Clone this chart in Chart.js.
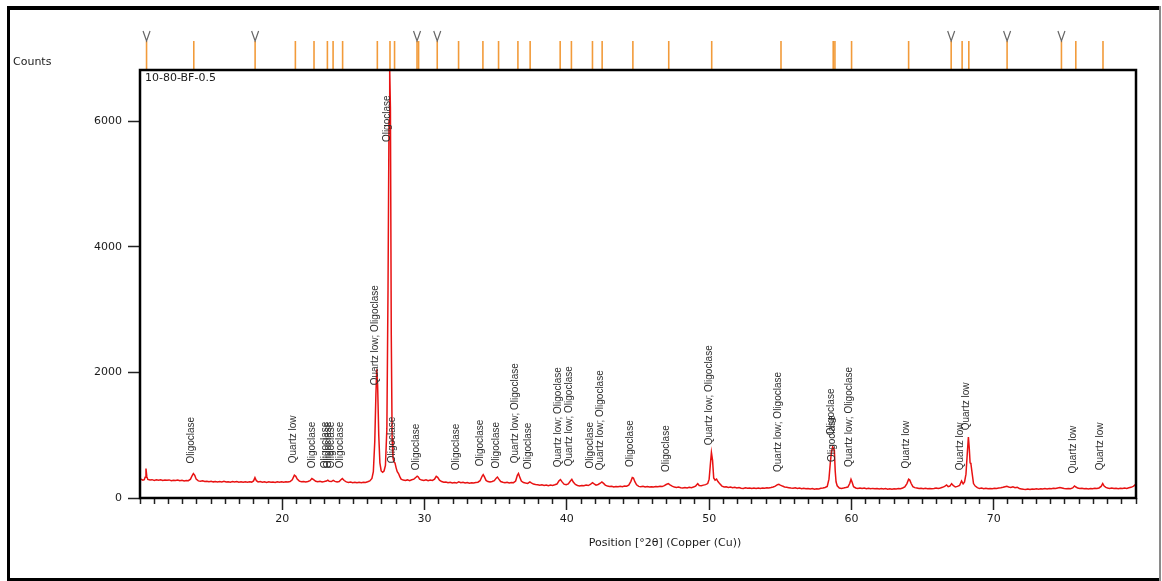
<!DOCTYPE html>
<html>
<head>
<meta charset="utf-8">
<script src="https://cdn.jsdelivr.net/npm/chart.js@4.4.1/dist/chart.umd.min.js"></script>
<style>
html,body{margin:0;padding:0;background:#fff;}
canvas{display:block;}
</style>
</head>
<body>
<canvas id="c" width="1162" height="581"></canvas>
<script>
// ---- Data ----
const sampleName = '10-80-BF-0.5';
const yTitle = 'Counts';
const xTitle = 'Position [°2θ] (Copper (Cu))';
const xTickLabels = [20, 30, 40, 50, 60, 70];
const yTickValues = [0, 2000, 4000, 6000];

// measured scan: [2θ, counts]
const scan = [
[10.00,288],[10.10,296],[10.20,285],[10.30,292],[10.36,330],[10.42,468],[10.48,340],[10.55,295],[10.70,286],[10.85,292],[11.00,280],[11.15,289],[11.30,283],[11.45,290],[11.60,278],[11.75,286],[11.90,281],[12.05,288],[12.20,276],[12.35,284],[12.50,279],[12.65,287],[12.80,275],[12.95,281],[13.10,272],[13.25,280],[13.40,276],[13.55,300],[13.65,350],[13.75,389],[13.85,360],[13.95,300],[14.10,272],[14.25,266],[14.40,274],[14.55,262],[14.70,268],[14.85,259],[15.00,266],[15.15,257],[15.30,264],[15.45,255],[15.60,262],[15.75,256],[15.90,265],[16.05,254],[16.20,260],[16.35,252],[16.50,261],[16.65,255],[16.80,263],[16.95,252],[17.10,258],[17.25,250],[17.40,257],[17.55,251],[17.70,259],[17.85,253],[17.98,272],[18.08,325],[18.18,275],[18.30,256],[18.45,262],[18.60,251],[18.75,259],[18.90,249],[19.05,258],[19.20,250],[19.35,256],[19.50,248],[19.65,257],[19.80,252],[19.95,260],[20.10,251],[20.25,258],[20.40,254],[20.55,262],[20.70,290],[20.85,362],[20.95,345],[21.05,300],[21.20,268],[21.35,258],[21.50,264],[21.65,255],[21.80,262],[21.95,276],[22.08,309],[22.20,292],[22.35,266],[22.50,258],[22.65,265],[22.80,256],[22.95,262],[23.10,270],[23.20,284],[23.30,266],[23.45,262],[23.58,282],[23.70,265],[23.85,255],[24.00,262],[24.12,290],[24.22,309],[24.35,278],[24.50,256],[24.65,248],[24.80,255],[24.95,244],[25.10,251],[25.25,243],[25.40,250],[25.55,244],[25.70,252],[25.85,246],[26.00,258],[26.15,272],[26.30,310],[26.40,420],[26.50,900],[26.58,1650],[26.64,2050],[26.70,1800],[26.78,1000],[26.86,560],[26.95,430],[27.05,410],[27.15,430],[27.25,520],[27.35,1100],[27.43,3300],[27.50,6000],[27.55,6830],[27.60,6200],[27.66,2600],[27.72,950],[27.78,640],[27.85,573],[27.92,560],[28.00,480],[28.08,420],[28.17,389],[28.26,340],[28.35,300],[28.50,285],[28.65,278],[28.80,288],[28.95,276],[29.10,290],[29.25,300],[29.40,330],[29.48,346],[29.56,335],[29.65,300],[29.80,285],[29.95,278],[30.10,290],[30.25,275],[30.40,285],[30.55,280],[30.70,300],[30.82,346],[30.92,330],[31.05,285],[31.20,262],[31.35,250],[31.50,256],[31.65,244],[31.80,252],[31.95,240],[32.10,248],[32.25,238],[32.40,256],[32.55,242],[32.70,250],[32.85,238],[33.00,246],[33.15,236],[33.30,244],[33.45,240],[33.60,248],[33.75,252],[33.90,275],[34.05,350],[34.12,373],[34.20,340],[34.32,280],[34.45,262],[34.60,255],[34.75,262],[34.90,275],[35.05,320],[35.12,334],[35.22,300],[35.35,262],[35.50,250],[35.65,244],[35.80,252],[35.95,240],[36.10,248],[36.25,244],[36.40,270],[36.52,360],[36.60,389],[36.68,340],[36.80,270],[36.95,245],[37.10,238],[37.25,232],[37.40,255],[37.50,240],[37.65,222],[37.80,215],[37.95,210],[38.10,204],[38.25,212],[38.40,200],[38.55,208],[38.70,196],[38.85,205],[39.00,200],[39.15,210],[39.30,222],[39.45,275],[39.55,293],[39.65,260],[39.80,220],[39.95,212],[40.10,225],[40.25,270],[40.35,298],[40.45,255],[40.60,215],[40.75,200],[40.90,191],[41.05,200],[41.20,195],[41.35,205],[41.50,198],[41.65,215],[41.80,245],[41.92,225],[42.05,205],[42.20,215],[42.35,235],[42.46,255],[42.58,232],[42.70,205],[42.85,190],[43.00,182],[43.15,188],[43.30,175],[43.45,184],[43.60,178],[43.75,186],[43.90,180],[44.05,190],[44.20,188],[44.35,205],[44.50,265],[44.60,325],[44.68,318],[44.78,260],[44.90,210],[45.05,185],[45.20,178],[45.35,186],[45.50,175],[45.65,182],[45.80,174],[45.95,180],[46.10,175],[46.25,184],[46.40,178],[46.55,186],[46.70,182],[46.85,198],[46.98,215],[47.13,229],[47.25,210],[47.40,190],[47.55,174],[47.70,168],[47.85,175],[48.00,164],[48.15,159],[48.30,166],[48.45,160],[48.60,170],[48.75,165],[48.90,175],[49.05,190],[49.20,229],[49.30,200],[49.45,195],[49.60,205],[49.75,213],[49.90,230],[50.00,300],[50.08,520],[50.16,725],[50.24,600],[50.32,320],[50.42,285],[50.52,300],[50.62,262],[50.75,225],[50.90,190],[51.05,175],[51.20,180],[51.35,168],[51.50,176],[51.65,165],[51.80,172],[51.95,160],[52.10,168],[52.25,155],[52.40,150],[52.55,162],[52.70,154],[52.85,160],[53.00,150],[53.15,158],[53.30,152],[53.45,160],[53.60,150],[53.75,158],[53.90,155],[54.05,162],[54.20,158],[54.35,166],[54.50,175],[54.65,190],[54.80,212],[54.90,218],[55.00,205],[55.15,190],[55.30,176],[55.45,170],[55.60,164],[55.75,158],[55.90,155],[56.05,162],[56.20,150],[56.35,158],[56.50,148],[56.65,155],[56.80,146],[56.95,152],[57.10,144],[57.25,150],[57.40,139],[57.55,148],[57.70,145],[57.85,156],[58.00,160],[58.15,168],[58.30,185],[58.42,300],[58.52,573],[58.60,740],[58.68,812],[58.74,790],[58.80,760],[58.86,430],[58.92,255],[59.00,195],[59.15,160],[59.30,152],[59.45,158],[59.60,166],[59.75,175],[59.88,230],[59.97,298],[60.05,250],[60.15,180],[60.30,160],[60.45,152],[60.60,160],[60.75,150],[60.90,157],[61.05,148],[61.20,155],[61.35,146],[61.50,153],[61.65,148],[61.80,150],[61.95,144],[62.10,152],[62.25,142],[62.40,149],[62.55,140],[62.70,147],[62.85,139],[63.00,146],[63.15,142],[63.30,150],[63.45,148],[63.60,160],[63.75,178],[63.90,230],[64.02,298],[64.10,285],[64.20,230],[64.32,180],[64.45,165],[64.60,158],[64.75,150],[64.90,156],[65.05,148],[65.20,154],[65.35,146],[65.50,152],[65.65,147],[65.80,150],[65.95,158],[66.10,152],[66.25,160],[66.40,170],[66.55,185],[66.69,207],[66.80,180],[66.92,190],[67.04,229],[67.15,200],[67.30,175],[67.45,185],[67.60,200],[67.74,271],[67.85,225],[67.95,255],[68.05,380],[68.14,700],[68.22,972],[68.28,800],[68.34,560],[68.40,540],[68.48,400],[68.58,230],[68.70,190],[68.85,165],[69.00,150],[69.15,158],[69.30,148],[69.45,155],[69.60,146],[69.75,152],[69.90,148],[70.05,156],[70.20,150],[70.35,158],[70.50,162],[70.65,170],[70.80,180],[70.92,186],[71.05,175],[71.20,168],[71.35,178],[71.50,165],[71.65,172],[71.80,152],[71.95,145],[72.10,138],[72.25,134],[72.40,142],[72.55,136],[72.70,144],[72.85,138],[73.00,146],[73.15,140],[73.30,148],[73.45,142],[73.60,150],[73.75,144],[73.90,152],[74.05,146],[74.20,154],[74.35,150],[74.50,160],[74.65,166],[74.80,158],[74.95,150],[75.10,146],[75.25,152],[75.40,148],[75.55,160],[75.68,191],[75.78,175],[75.90,158],[76.05,150],[76.20,155],[76.35,146],[76.50,150],[76.65,144],[76.80,152],[76.95,146],[77.10,155],[77.25,150],[77.40,160],[77.55,185],[77.66,229],[77.76,190],[77.88,168],[78.00,158],[78.15,152],[78.30,160],[78.45,150],[78.60,156],[78.75,148],[78.90,155],[79.05,150],[79.20,160],[79.35,152],[79.50,162],[79.65,170],[79.80,186],[79.90,200],[80.00,229]
];

// reference-pattern stick positions (2θ) shown above the plot
const refLines = [10.46,13.78,18.09,20.92,22.23,23.17,23.57,24.24,26.68,27.57,27.89,29.47,29.58,30.89,32.39,34.10,35.20,36.56,37.42,39.53,40.32,41.80,42.48,44.64,47.16,50.18,55.05,58.72,58.84,60.01,64.02,67.01,67.78,68.25,70.94,74.76,75.77,77.68];
// positions carrying the "V" mark
const vMarks = [10.46,18.09,29.47,30.89,67.01,70.94,74.76];

// peak labels: [2θ, text, counts level where the text starts]
const peakLabels = [
[13.78,'Oligoclase',548],
[20.92,'Quartz low',553],
[22.23,'Oligoclase',473],
[23.17,'Oligoclase',473],
[23.40,'Oligoclase',473],
[23.57,'Oligoclase',473],
[24.24,'Oligoclase',473],
[26.68,'Quartz low; Oligoclase',1795],
[27.57,'Oligoclase',5665],
[27.89,'Oligoclase',553],
[29.58,'Oligoclase',441],
[32.39,'Oligoclase',441],
[34.10,'Oligoclase',505],
[35.20,'Oligoclase',468],
[36.56,'Quartz low; Oligoclase',553],
[37.42,'Oligoclase',457],
[39.53,'Quartz low; Oligoclase',489],
[40.32,'Quartz low; Oligoclase',505],
[41.80,'Oligoclase',468],
[42.48,'Quartz low; Oligoclase',441],
[44.64,'Oligoclase',494],
[47.16,'Oligoclase',414],
[50.18,'Quartz low; Oligoclase',839],
[55.05,'Quartz low; Oligoclase',414],
[58.72,'Oligoclase',999],
[58.84,'Oligoclase',573],
[60.01,'Quartz low; Oligoclase',494],
[64.02,'Quartz low',468],
[67.78,'Quartz low',441],
[68.25,'Quartz low',1078],
[75.77,'Quartz low',389],
[77.68,'Quartz low',441]
];

const X_MIN = 10, X_MAX = 80, Y_MIN = 0, Y_MAX = 6813;

// ---- drawing ----
const axisFont = {family: 'DejaVu Sans', size: 11};

const overlay = {
  id: 'overlay',
  afterDraw(chart) {
    const {ctx, chartArea: a, scales: {x, y}} = chart;
    ctx.save();
    // outer frame
    ctx.fillStyle = '#000';
    ctx.fillRect(7, 6, 1153, 4);
    ctx.fillRect(7, 6, 3, 575);
    ctx.fillRect(7, 578, 1153, 3);
    ctx.fillStyle = '#8a8a8a';
    ctx.fillRect(1159, 6, 2, 575);

    // reference sticks above plot
    ctx.strokeStyle = '#f29b3a';
    ctx.lineWidth = 1.6;
    refLines.forEach(p => {
      const px = x.getPixelForValue(p);
      ctx.beginPath();
      ctx.moveTo(px, 41);
      ctx.lineTo(px, a.top);
      ctx.stroke();
    });
    ctx.strokeStyle = '#666';
    ctx.lineWidth = 1.2;
    vMarks.forEach(p => {
      const px = x.getPixelForValue(p);
      ctx.beginPath();
      ctx.moveTo(px - 3.5, 31);
      ctx.lineTo(px, 41);
      ctx.lineTo(px + 3.5, 31);
      ctx.stroke();
    });

    // peak labels
    ctx.font = '10px "Liberation Sans", Arial, sans-serif';
    ctx.fillStyle = '#2e2e2e';
    ctx.textAlign = 'left';
    ctx.textBaseline = 'alphabetic';
    peakLabels.forEach(([p, t, lvl]) => {
      ctx.save();
      ctx.translate(x.getPixelForValue(p) + 0.5, y.getPixelForValue(lvl));
      ctx.rotate(-Math.PI / 2);
      ctx.fillText(t, 0, 0);
      ctx.restore();
    });

    // plot box
    ctx.strokeStyle = '#000';
    ctx.lineWidth = 2.5;
    ctx.strokeRect(a.left, a.top, a.right - a.left, a.bottom - a.top);

    // texts
    ctx.font = '11px "DejaVu Sans"';
    ctx.fillStyle = '#1a1a1a';
    ctx.textBaseline = 'middle';
    ctx.textAlign = 'left';
    ctx.fillText(yTitle, 13, 62);
    ctx.fillText(sampleName, a.left + 5, a.top + 8);
    ctx.textAlign = 'center';
    ctx.fillText(xTitle, 665, 543);
    ctx.restore();
  }
};

new Chart(document.getElementById('c'), {
  type: 'line',
  data: {
    datasets: [{
      data: scan.map(([t, c]) => ({x: t, y: c})),
      borderColor: 'rgb(232,18,18)',
      borderWidth: 1.5,
      pointRadius: 0,
      tension: 0,
      fill: false
    }]
  },
  options: {
    responsive: false,
    animation: false,
    devicePixelRatio: 1,
    layout: {padding: {left: 0, right: 26, top: 70, bottom: 0}},
    plugins: {legend: {display: false}, tooltip: {enabled: false}},
    scales: {
      x: {
        type: 'linear',
        min: X_MIN, max: X_MAX,
        afterFit: s => { s.height = 83; },
        border: {display: false},
        grid: {
          drawOnChartArea: false,
          drawTicks: true,
          tickLength: 12,
          tickColor: '#222',
          tickWidth: 1.5,
          tickBorderDash: ctx => (xTickLabels.includes(Math.round(ctx.tick.value)) ? [] : [6, 30])
        },
        ticks: {
          stepSize: 1,
          autoSkip: false,
          maxRotation: 0,
          padding: 3,
          color: '#1a1a1a',
          font: axisFont,
          callback: v => (xTickLabels.includes(Math.round(v)) ? String(Math.round(v)) : '')
        }
      },
      y: {
        type: 'linear',
        min: Y_MIN, max: Y_MAX,
        afterFit: s => { s.width = 140; },
        afterBuildTicks: s => { s.ticks = yTickValues.map(v => ({value: v})); },
        border: {display: false},
        grid: {
          drawOnChartArea: false,
          drawTicks: true,
          tickLength: 12,
          tickColor: '#222',
          tickWidth: 1.5
        },
        ticks: {
          padding: 6,
          color: '#1a1a1a',
          font: axisFont,
          callback: v => String(v)
        }
      }
    }
  },
  plugins: [overlay]
});
</script>
</body>
</html>
